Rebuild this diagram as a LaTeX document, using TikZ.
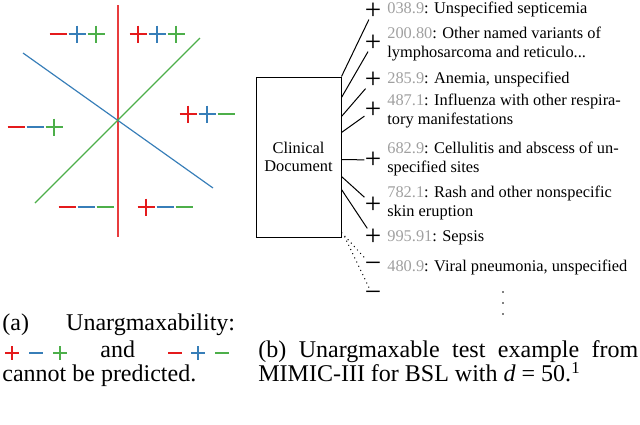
\documentclass[tikz,border=0pt]{standalone}
\usepackage{fontspec}
\setmainfont{Liberation Serif}
\definecolor{cr}{HTML}{E41A1C}
\definecolor{cb}{HTML}{377EB8}
\definecolor{cg}{HTML}{4DAF4A}
\definecolor{codegray}{HTML}{A0A0A0}
\newcommand\cde[1]{\textcolor{codegray}{#1}}
\tikzset{
  bigplus/.pic={\draw (-8.5,0)--(8.5,0) (0,-8.5)--(0,8.5);},
  bigminus/.pic={\draw (-8.5,0)--(8.5,0);},
  smplus/.pic={\draw (-7,0)--(7,0) (0,-7)--(0,7);},
  smminus/.pic={\draw (-7,0)--(7,0);},
  bsign/.style={line width=1.6pt},
  ssign/.style={line width=1.3pt},
  lab/.style={anchor=base west, align=left, inner sep=0pt, font=\fontsize{9}{10.4}\selectfont},
  sgn/.style={inner sep=0pt, minimum width=8pt, minimum height=8pt, font=\fontsize{16}{16}\selectfont},
  docbox/.style={draw, line width=0.55pt, minimum width=46.75pt, minimum height=88pt, align=center, inner sep=0pt, font=\fontsize{9}{10.2}\selectfont},
  link/.style={line width=0.55pt},
  dlink/.style={line width=0.55pt, dotted},
  captext/.style={anchor=base west, inner sep=0pt, font=\fontsize{13.2}{13.2}\selectfont}
}
\begin{document}
\begin{tikzpicture}[x=0.55pt,y=-0.55pt]
\useasboundingbox (0,0) rectangle (640,425);
% ---- left panel ----
\draw[cr!85, line width=1.1pt] (118,5) -- (118,237);
\draw[cb, line width=0.65pt] (23,53) -- (213,188);
\draw[cg, line width=0.65pt] (35,203) -- (200,38);
% -++
\pic[cr,bsign] at (58,34) {bigminus};
\pic[cb,bsign] at (77,34) {bigplus};
\pic[cg,bsign] at (96,34) {bigplus};
% +++
\pic[cr,bsign] at (138,34) {bigplus};
\pic[cb,bsign] at (157,34) {bigplus};
\pic[cg,bsign] at (176,34) {bigplus};
% ++-
\pic[cr,bsign] at (188,114) {bigplus};
\pic[cb,bsign] at (207,114) {bigplus};
\pic[cg,bsign] at (226,114) {bigminus};
% --+
\pic[cr,bsign] at (16,127) {bigminus};
\pic[cb,bsign] at (35,127) {bigminus};
\pic[cg,bsign] at (54,127) {bigplus};
% ---
\pic[cr,bsign] at (67,207) {bigminus};
\pic[cb,bsign] at (86,207) {bigminus};
\pic[cg,bsign] at (105,207) {bigminus};
% +--
\pic[cr,bsign] at (146,207) {bigplus};
\pic[cb,bsign] at (165,207) {bigminus};
\pic[cg,bsign] at (184,207) {bigminus};
% ---- right panel ----
\node[docbox] (doc) at (298.5,157) {Clinical\\Document};
\node[sgn] (s1) at (373,11) {+};
\node[sgn] (s2) at (373,43) {+};
\node[sgn] (s3) at (373,80) {+};
\node[sgn] (s4) at (373,110) {+};
\node[sgn] (s5) at (373,160) {+};
\node[sgn] (s6) at (373,205) {+};
\node[sgn] (s7) at (373,237) {+};
\node[sgn] (s8) at (373,267) {−};
\node[sgn] (s9) at (373,296) {−};
\draw[link] (doc.north east) -- (s1);
\draw[link] (doc.north east) ++(0,21) -- (s2);
\draw[link] (doc.north east) ++(0,40) -- (s3);
\draw[link] (doc.north east) ++(0,56) -- (s4);
\draw[link] (doc.north east) ++(0,83) -- (s5);
\draw[link] (doc.north east) ++(0,100) -- (s6);
\draw[link] (doc.north east) ++(0,113) -- (s7);
\draw[dlink] (doc.north east) ++(0,156) -- (s8);
\draw[dlink] (doc.north east) ++(3,160) -- (s9);
\node[lab] (l1) at (387,13) {\cde{038.9}: Unspecified septicemia};
\node[lab] (l2) at (387,57) {\cde{200.80}: Other named variants of\\lymphosarcoma and reticulo...};
\node[lab] (l3) at (387,83) {\cde{285.9}: Anemia, unspecified};
\node[lab] (l4) at (387,124) {\cde{487.1}: Influenza with other respira-\\tory manifestations};
\node[lab] (l5) at (387,172) {\cde{682.9}: Cellulitis and abscess of un-\\specified sites};
\node[lab] (l6) at (387,216) {\cde{782.1}: Rash and other nonspecific\\skin eruption};
\node[lab] (l7) at (387,241) {\cde{995.91}: Sepsis};
\node[lab] (l8) at (387,271) {\cde{480.9}: Viral pneumonia, unspecified};
\fill (503,292) circle (0.9) (503,303) circle (0.9) (503,314) circle (0.9);
% ---- captions ----
\node[captext] (ca1) at (2,330) {\makebox[128pt][s]{(a) Unargmaxability:}};
\pic[cr,ssign] at (12,353) {smplus};
\pic[cb,ssign] at (36,353) {smminus};
\pic[cg,ssign] at (60,353) {smplus};
\node[captext] (ca2) at (100,357) {and};
\pic[cr,ssign] at (175,353) {smminus};
\pic[cb,ssign] at (198,353) {smplus};
\pic[cg,ssign] at (222,353) {smminus};
\node[captext] (ca3) at (2,381) {cannot be predicted.};
\node[captext] (cb1) at (258,357) {\makebox[209pt][s]{(b) Unargmaxable test example from}};
\node[captext] (cb2) at (258,381) {MIMIC-III for BSL with \textit{d} = 50.\textsuperscript{1}};
\end{tikzpicture}
\end{document}
